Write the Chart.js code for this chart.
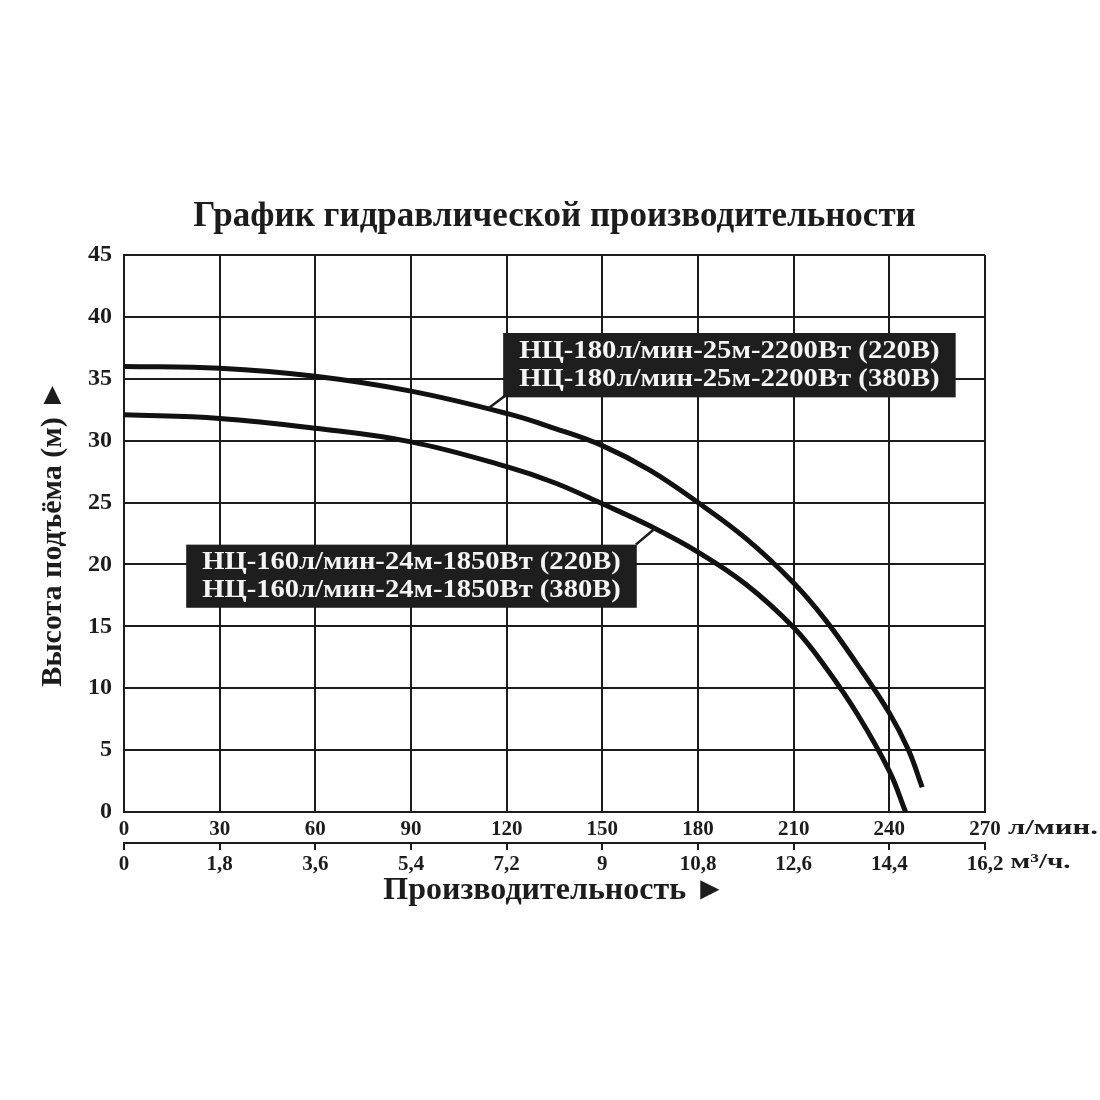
<!DOCTYPE html>
<html lang="ru">
<head>
<meta charset="utf-8">
<title>График гидравлической производительности</title>
<script src="https://cdn.jsdelivr.net/npm/chart.js@4.4.1/dist/chart.umd.min.js"></script>
<style>
    html, body { margin: 0; padding: 0; background: #fff; }
    #wrap { width: 1100px; height: 1100px; }
</style>
</head>
<body>
<div id="wrap"><canvas id="grafik"></canvas></div>
<script>
// Расход, л/мин и напор, м
const rashod180 = [0, 30, 60, 90, 120, 135, 150, 165, 180, 195, 210, 220, 230, 240, 246, 250.3];
const napor180 = [36.0, 35.85, 35.2, 34.0, 32.2, 31.0, 29.6, 27.6, 25.0, 22.1, 18.5, 15.5, 11.9, 8.0, 5.0, 2.0];
const rashod160 = [0, 30, 60, 90, 120, 135, 150, 165, 180, 195, 210, 220, 230, 240, 245.1];
const napor160 = [32.1, 31.8, 31.0, 29.9, 27.9, 26.6, 24.9, 23.1, 21.0, 18.4, 14.9, 11.7, 7.9, 3.3, 0];

// подписи шкал
const metkiLmin = ['0', '30', '60', '90', '120', '150', '180', '210', '240', '270'];
const metkiM3 = ['0', '1,8', '3,6', '5,4', '7,2', '9', '10,8', '12,6', '14,4', '16,2'];
const podpis180 = ['НЦ-180л/мин-25м-2200Вт (220В)', 'НЦ-180л/мин-25м-2200Вт (380В)'];
const podpis160 = ['НЦ-160л/мин-24м-1850Вт (220В)', 'НЦ-160л/мин-24м-1850Вт (380В)'];

const shrift = '"Liberation Serif", "Times New Roman", serif';
const chernyi = '#1c1c1c';

Chart.defaults.font.family = shrift;
Chart.defaults.font.weight = 'bold';
Chart.defaults.color = chernyi;

function tochki(xs, ys) {
    return xs.map((x, i) => ({ x: x, y: ys[i] }));
}

// текст, растянутый по ширине (в оригинале шрифт шире)
function tekstPoShirine(ctx, tekst, x, y, shirina) {
    const w = ctx.measureText(tekst).width;
    const k = shirina ? shirina / w : 1;
    ctx.save();
    ctx.translate(x, y);
    ctx.scale(k, 1);
    ctx.fillText(tekst, 0, 0);
    ctx.restore();
}

// Черные таблички с выноской к кривой (координаты в единицах осей)
const tablichki = [
    { stroki: podpis180, x1: 118.9, x2: 260.8, y1: 38.7, y2: 33.5, ot: [119.4, 33.6], k: [114.2, 32.6] },
    { stroki: podpis160, x1: 19.5, x2: 160.8, y1: 21.6, y2: 16.5, ot: [160.5, 21.6], k: [166.5, 22.9] }
];

const pluginTablichki = {
    id: 'tablichki',
    afterDatasetsDraw(chart) {
        const { ctx, scales: { x, y } } = chart;
        ctx.save();
        tablichki.forEach(t => {
            // выноска
            ctx.strokeStyle = chernyi;
            ctx.lineWidth = 2.5;
            ctx.beginPath();
            ctx.moveTo(x.getPixelForValue(t.ot[0]), y.getPixelForValue(t.ot[1]));
            ctx.lineTo(x.getPixelForValue(t.k[0]), y.getPixelForValue(t.k[1]));
            ctx.stroke();

            const left = x.getPixelForValue(t.x1);
            const right = x.getPixelForValue(t.x2);
            const top = y.getPixelForValue(t.y1);
            const bottom = y.getPixelForValue(t.y2);
            ctx.fillStyle = '#1e1e1e';
            ctx.fillRect(left, top, right - left, bottom - top);

            ctx.fillStyle = '#f4f4f4';
            ctx.font = 'bold 26px ' + shrift;
            ctx.textAlign = 'left';
            ctx.textBaseline = 'middle';
            const cy = (top + bottom) / 2;
            const w = right - left - 32;
            tekstPoShirine(ctx, t.stroki[0], left + 16, cy - 14, w);
            tekstPoShirine(ctx, t.stroki[1], left + 16, cy + 14, w);
        });
        ctx.restore();
    }
};

// единицы измерения справа от последних меток
const pluginEdinicy = {
    id: 'edinicy',
    afterDraw(chart) {
        const { ctx } = chart;
        const px = chart.scales.x.getPixelForValue(270);
        ctx.save();
        ctx.fillStyle = chernyi;
        ctx.font = 'bold 20px ' + shrift;
        ctx.textAlign = 'left';
        ctx.textBaseline = 'middle';
        const w1 = ctx.measureText(metkiLmin[metkiLmin.length - 1]).width;
        const w2 = ctx.measureText(metkiM3[metkiM3.length - 1]).width;
        ctx.font = 'bold 22px ' + shrift;
        tekstPoShirine(ctx, 'л/мин.', px + w1 / 2 + 8, 828, 90);
        tekstPoShirine(ctx, 'м³/ч.', px + w2 / 2 + 8, 862, 60);
        ctx.restore();
    }
};

const setka = {
    color: chernyi,
    lineWidth: 2,
    drawTicks: false
};

new Chart(document.getElementById('grafik'), {
    type: 'line',
    data: {
        datasets: [
            {
                label: podpis180[0],
                data: tochki(rashod180, napor180),
                borderColor: '#111',
                borderWidth: 5,
                pointRadius: 0,
                tension: 0.4
            },
            {
                label: podpis160[0],
                data: tochki(rashod160, napor160),
                borderColor: '#111',
                borderWidth: 5,
                pointRadius: 0,
                tension: 0.4
            }
        ]
    },
    options: {
        responsive: true,
        maintainAspectRatio: false,
        animation: false,
        layout: { padding: { left: 0, right: 115, top: 0, bottom: 187 } },
        plugins: {
            legend: { display: false },
            tooltip: { enabled: false },
            title: {
                display: true,
                fullSize: false,
                text: 'График гидравлической производительности',
                font: { size: 35, weight: 'bold' },
                color: chernyi,
                padding: { top: 196, bottom: 17 }
            }
        },
        scales: {
            x: {
                type: 'linear',
                position: 'bottom',
                min: 0,
                max: 270,
                grid: setka,
                border: { display: true, color: chernyi, width: 2 },
                ticks: {
                    stepSize: 30,
                    padding: 5,
                    maxRotation: 0,
                    font: { size: 21, weight: 'bold' },
                    callback: (v, i) => metkiLmin[i]
                },
                afterFit: s => { s.height = 31; }
            },
            x2: {
                type: 'linear',
                position: 'bottom',
                min: 0,
                max: 270,
                grid: { drawOnChartArea: false, color: chernyi, lineWidth: 2, tickLength: 7 },
                border: { display: true, color: chernyi, width: 2 },
                ticks: {
                    stepSize: 30,
                    padding: 2,
                    maxRotation: 0,
                    font: { size: 21, weight: 'bold' },
                    callback: (v, i) => metkiM3[i]
                },
                title: {
                    display: true,
                    text: 'Производительность ►',
                    font: { size: 32, weight: 'bold' },
                    color: chernyi,
                    padding: { top: 0, bottom: 3 }
                },
                afterFit: s => { s.height = 70; }
            },
            y: {
                min: 0,
                max: 45,
                grid: setka,
                border: { display: true, color: chernyi, width: 2 },
                ticks: {
                    stepSize: 5,
                    padding: 12,
                    font: { size: 24, weight: 'bold' }
                },
                title: {
                    display: true,
                    text: 'Высота подъёма (м) ►',
                    font: { size: 30, weight: 'bold' },
                    color: chernyi,
                    padding: { top: 35, bottom: 0 }
                },
                afterFit: s => { s.width = 124; }
            }
        }
    },
    plugins: [pluginTablichki, pluginEdinicy]
});
</script>
</body>
</html>
